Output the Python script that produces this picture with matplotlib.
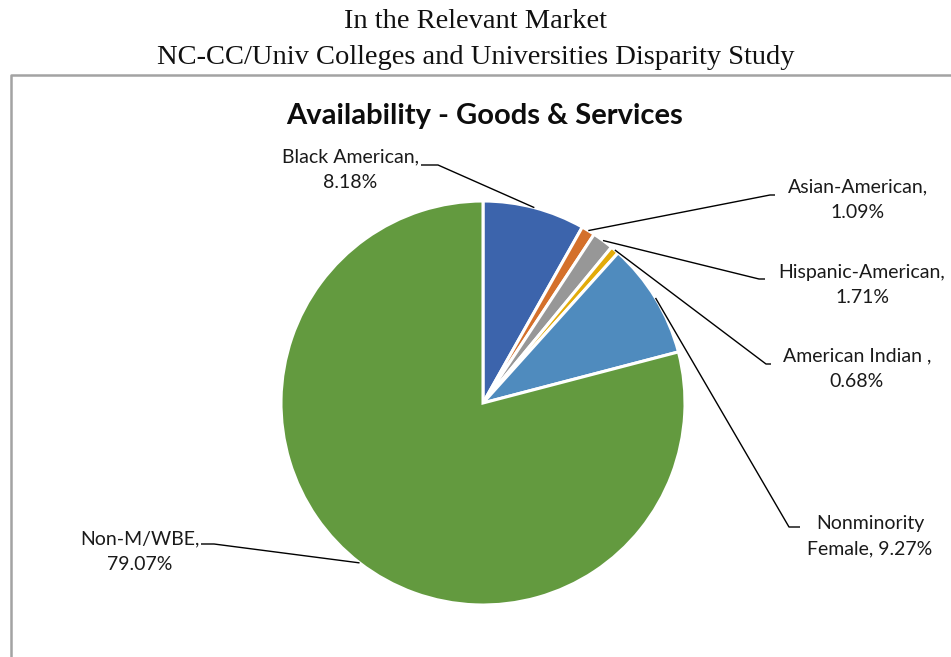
import numpy as np
import matplotlib
matplotlib.use("Agg")
import matplotlib.pyplot as plt
from matplotlib.lines import Line2D

categories = ["Black American", "Asian-American", "Hispanic-American",
              "American Indian ", "Nonminority\nFemale", "Non-M/WBE"]
values = [8.18, 1.09, 1.71, 0.68, 9.27, 79.07]
colors = ["#3C64AC", "#D4702B", "#979797", "#E2AB0A", "#4F8BBE", "#639A3F"]

title_lines = ["In the Relevant Market",
               "NC-CC/Univ Colleges and Universities Disparity Study"]
chart_title = "Availability - Goods & Services"

W, H = 951, 657
fig = plt.figure(figsize=(W / 100, H / 100), dpi=100)
ax = fig.add_axes([0, 0, 1, 1])

cx, cy, R = 483, H - 403, 202
wedges, _ = ax.pie(values, colors=colors, startangle=90, counterclock=False,
                   center=(cx, cy), radius=R,
                   wedgeprops=dict(edgecolor="white", linewidth=2.2))
ax.set_xlim(0, W)
ax.set_ylim(0, H)
ax.set_aspect("equal")
ax.axis("off")

# label layout (pixel positions, y from top): text center, elbow point
label_pos = [
    (350, 170, 421, 165),   # Black American
    (858, 200, 775, 195),   # Asian
    (862, 285, 765, 279),   # Hispanic
    (857, 369, 771, 364),   # American Indian
    (870, 536, 800, 527),   # Nonminority Female
    (140, 552, 201, 544),   # Non-M/WBE
]
elbow_len = [17, -5, -6, -5, -11, 13]

lbl_font = dict(family=["Lato", "DejaVu Sans"], fontsize=14, color="#1a1a1a")
for w, val, cat, (tx, ty, ex, ey), el in zip(wedges, values, categories, label_pos, elbow_len):
    mid = np.deg2rad((w.theta1 + w.theta2) / 2)
    px, py = cx + R * np.cos(mid), cy + R * np.sin(mid)
    if "\n" in cat:
        txt = cat + f", {val:.2f}%"
    else:
        txt = f"{cat},\n{val:.2f}%"
    ax.text(tx, H - ty, txt, ha="center", va="center", linespacing=1.6, **lbl_font)
    ax.plot([ex, ex + el, px], [H - ey, H - ey, py], color="black", lw=1.0,
            solid_capstyle="butt")

# figure titles
serif = ["Liberation Serif", "DejaVu Serif"]
fig.text(0.5, 1 - 21 / H, title_lines[0], ha="center", va="center",
         family=serif, fontsize=20.5, color="#111111")
fig.text(0.5, 1 - 57 / H, title_lines[1], ha="center", va="center",
         family=serif, fontsize=20.5, color="#111111")
fig.text(485 / W, 1 - 116 / H, chart_title, ha="center", va="center",
         family=["Lato", "DejaVu Sans"], fontweight="bold", fontsize=21, color="#0d0d0d")

# chart area border (top and left visible)
fig.add_artist(Line2D([11 / W, 11 / W, 1.0], [0, 1 - 75 / H, 1 - 75 / H],
                      color="#a3a3a3", lw=1.8, transform=fig.transFigure))

fig.savefig("out.png", dpi=100)
